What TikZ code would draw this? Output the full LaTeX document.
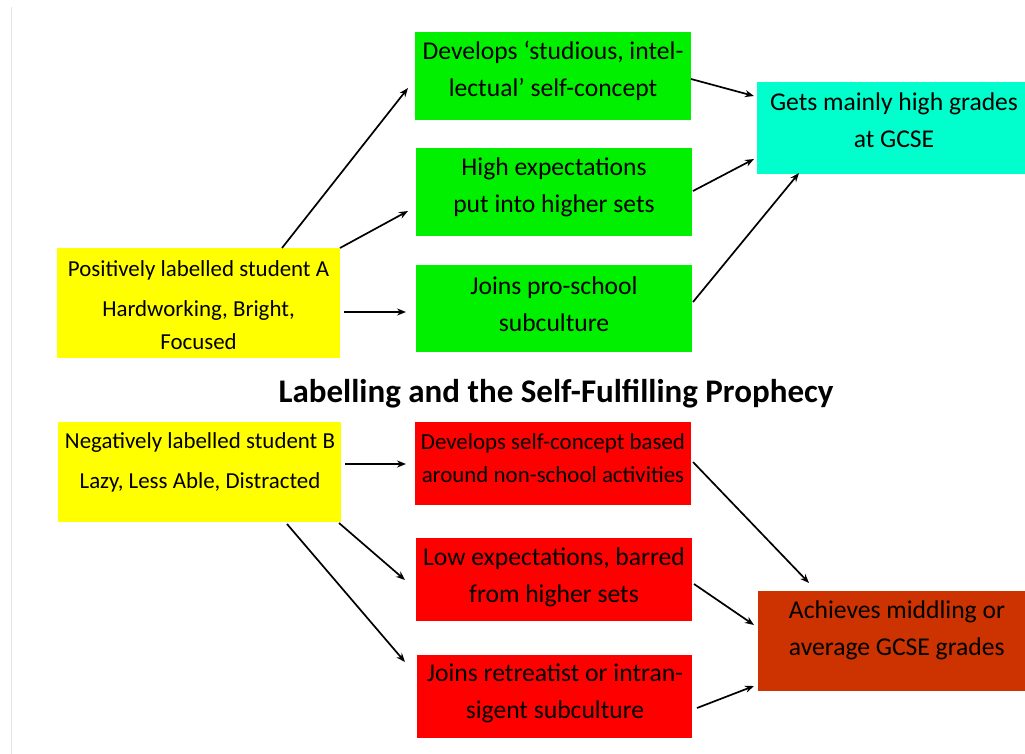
\documentclass[tikz,border=0pt]{standalone}
\usepackage{fontspec}
\setmainfont{Carlito}
\usetikzlibrary{arrows.meta}
\definecolor{ygelb}{HTML}{FFFF00}
\definecolor{ggreen}{HTML}{00F000}
\definecolor{ccyan}{HTML}{00FFCC}
\definecolor{rred}{HTML}{FF0000}
\definecolor{bbrown}{HTML}{CC3300}
\tikzset{
  boxnode/.style={draw=none, inner sep=0pt, outer sep=0pt, anchor=north west},
  txt/.style={inner sep=0pt, align=center, font=\fontsize{25.6}{37}\selectfont},
  txtsmall/.style={inner sep=0pt, align=center, font=\fontsize{22.9}{33}\selectfont},
  arr/.style={-{Stealth[length=9pt,width=7pt]}, line width=1.7pt, black},
}
\begin{document}
\begin{tikzpicture}[x=1pt,y=-1pt]
\useasboundingbox (0,0) rectangle (1025,754);
\fill[white] (0,0) rectangle (1025,754);
\draw[black!10, line width=0.8pt] (11,7) -- (11,754);
% top half boxes
\node[boxnode, fill=ygelb, minimum width=283pt, minimum height=110pt] (ya) at (57,248) {};
\node[boxnode, fill=ggreen, minimum width=276pt, minimum height=88pt] (g1) at (415,32) {};
\node[boxnode, fill=ggreen, minimum width=276pt, minimum height=88pt] (g2) at (416,148) {};
\node[boxnode, fill=ggreen, minimum width=276pt, minimum height=87pt] (g3) at (416,265) {};
\node[boxnode, fill=ccyan, minimum width=268pt, minimum height=92pt] (cy) at (757,82) {};
% texts
\node[txtsmall] (yat) at (198.5,305) {Positively labelled student A\\[7pt]Hardworking, Bright,\\Focused};
\node[txt] (g1t) at (553,70.5) {Develops ‘studious, intel-\\lectual’ self-concept};
\node[txt] (g2t) at (554,187.5) {High expectations\\put into higher sets};
\node[txt] (g3t) at (554,304) {Joins pro-school\\subculture};
\node[txt] (cyt) at (894,120.5) {Gets mainly high grades\\at GCSE};
% title
\node[inner sep=0pt, font=\fontsize{33}{36}\selectfont\bfseries] (title) at (556,394) {Labelling and the Self-Fulfilling Prophecy};
% bottom half boxes
\node[boxnode, fill=ygelb, minimum width=283pt, minimum height=100pt] (yb) at (58,422) {};
\node[boxnode, fill=rred, minimum width=276pt, minimum height=83pt] (r1) at (415,422) {};
\node[boxnode, fill=rred, minimum width=276pt, minimum height=83pt] (r2) at (416,538) {};
\node[boxnode, fill=rred, minimum width=275pt, minimum height=83pt] (r3) at (417,655) {};
\node[boxnode, fill=bbrown, minimum width=267pt, minimum height=100pt] (br) at (758,591) {};
\node[txtsmall, font=\fontsize{22.9}{40}\selectfont] (ybt) at (200,462) {Negatively labelled student B\\Lazy, Less Able, Distracted};
\node[txtsmall, font=\fontsize{22.9}{33}\selectfont] (r1t) at (553,458.5) {Develops self-concept based\\around non-school activities};
\node[txt] (r2t) at (554,577) {Low expectations, barred\\from higher sets};
\node[txt] (r3t) at (555,693.5) {Joins retreatist or intran-\\sigent subculture};
\node[txt, align=left] (brt) at (897,630) {Achieves middling or\\average GCSE grades};
% arrows top
\draw[arr] ([xshift=225pt]ya.north west) -- ([xshift=-7pt,yshift=-56pt]g1.north west);
\draw[arr] (ya.north east) -- ([xshift=-8pt,yshift=-63pt]g2.north west);
\draw[arr] ([xshift=4pt,yshift=-64pt]ya.north east) -- ([xshift=-10pt,yshift=-47pt]g3.north west);
\draw[arr] ([yshift=-47pt]g1.north east) -- ([xshift=-3pt,yshift=-14pt]cy.north west);
\draw[arr] ([xshift=1pt,yshift=-43pt]g2.north east) -- ([xshift=-3pt,yshift=-77pt]cy.north west);
\draw[arr] ([xshift=1pt,yshift=-37pt]g3.north east) -- ([xshift=42pt,yshift=1pt]cy.south west);
% arrows bottom
\draw[arr] ([xshift=4pt,yshift=-42pt]yb.north east) -- ([xshift=-9pt,yshift=-42pt]r1.north west);
\draw[arr] ([xshift=-2pt,yshift=-1pt]yb.south east) -- ([xshift=-11pt,yshift=-42pt]r2.north west);
\draw[arr] ([xshift=229pt,yshift=-2pt]yb.south west) -- ([xshift=-12pt,yshift=-7pt]r3.north west);
\draw[arr] ([xshift=2pt,yshift=-40pt]r1.north east) -- ([xshift=51pt,yshift=8pt]br.north west);
\draw[arr] ([xshift=2pt,yshift=-46pt]r2.north east) -- ([xshift=-4pt,yshift=-34pt]br.north west);
\draw[arr] ([xshift=5pt,yshift=-53pt]r3.north east) -- ([xshift=-4pt,yshift=5pt]br.south west);
\end{tikzpicture}
\end{document}
